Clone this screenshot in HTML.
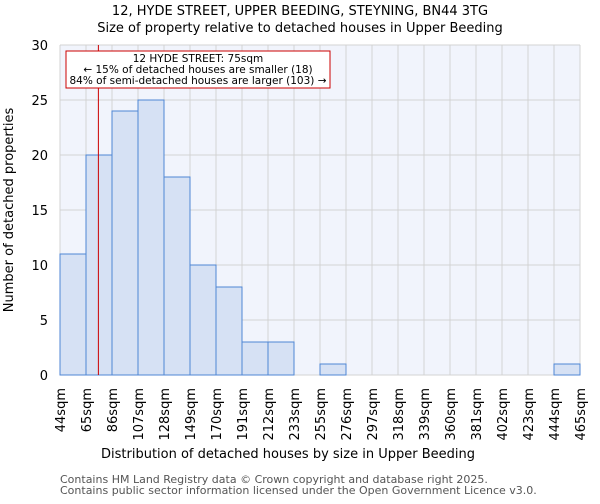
<!DOCTYPE html>
<html><head><meta charset="utf-8"><style>
body{margin:0;background:#fff;font-family:"DejaVu Sans","Liberation Sans",sans-serif}
svg text{font-family:"DejaVu Sans","Liberation Sans",sans-serif}
</style></head><body>
<svg id="chart" width="600" height="500" viewBox="0 0 600 500">
<text x="300" y="15" font-size="13" text-anchor="middle">12, HYDE STREET, UPPER BEEDING, STEYNING, BN44 3TG</text>
<text x="300" y="32" font-size="13" text-anchor="middle">Size of property relative to detached houses in Upper Beeding</text>
<rect x="60" y="45" width="520" height="330" fill="#f1f4fc"/>
<g id="grid"></g><g id="bars"></g><g id="axes"></g>
<text x="288" y="458" font-size="13" text-anchor="middle">Distribution of detached houses by size in Upper Beeding</text>
<text transform="translate(13,210) rotate(-90)" font-size="13" text-anchor="middle">Number of detached properties</text>
<text x="60" y="483" font-size="11" fill="#555">Contains HM Land Registry data © Crown copyright and database right 2025.</text>
<text x="60" y="494" font-size="11" fill="#555">Contains public sector information licensed under the Open Government Licence v3.0.</text>
</svg>
<script>
const categories=["44sqm","65sqm","86sqm","107sqm","128sqm","149sqm","170sqm","191sqm","212sqm","233sqm","255sqm","276sqm","297sqm","318sqm","339sqm","360sqm","381sqm","402sqm","423sqm","444sqm","465sqm"];
const counts=[11,20,24,25,18,10,8,3,3,0,1,0,0,0,0,0,0,0,0,1];
const yTicks=[0,5,10,15,20,25,30];
const propertySize=75;
const binStart=44, binWidth=21;
const NS="http://www.w3.org/2000/svg";
const X0=60,X1=580,Y0=375,Y1=45,YMAX=30;
const nb=counts.length, bw=(X1-X0)/nb;
const xs=i=>X0+i*bw;
const xv=v=>X0+(v-binStart)/binWidth*bw;
const ys=v=>Y0-(v/YMAX)*(Y0-Y1);
function mk(tag,attrs,parent){const e=document.createElementNS(NS,tag);for(const k in attrs)e.setAttribute(k,attrs[k]);parent.appendChild(e);return e;}
const grid=document.getElementById('grid'),bars=document.getElementById('bars'),axes=document.getElementById('axes');
yTicks.forEach(t=>{
  const l=mk('line',{x1:X0,x2:X1,y1:ys(t),y2:ys(t),stroke:'#d3d3d3','stroke-width':1},grid);
  
  
  const tx=mk('text',{x:X0-12,y:ys(t)+5,'font-size':13,'text-anchor':'end'},axes);
  tx.textContent=t;
  
  
});
categories.forEach((c,i)=>{
  const l=mk('line',{x1:xs(i),x2:xs(i),y1:Y1,y2:Y0,stroke:'#d3d3d3','stroke-width':1},grid);
  
  
  const tx=mk('text',{transform:`translate(${xs(i)+5},388) rotate(-90)`,'font-size':13,'text-anchor':'end'},axes);
  tx.textContent=c;
  
  
});
counts.forEach((v,i)=>{
  if(v<=0)return;
  const r=mk('rect',{x:xs(i),y:ys(v),width:bw,height:Y0-ys(v),fill:'#d6e1f4',stroke:'#4f86d4','stroke-width':1},bars);
  
  
});
const mx=xv(propertySize);
const ml=mk('line',{x1:mx,x2:mx,y1:Y1,y2:Y0,stroke:'#cc0000','stroke-width':1},axes);


const box=mk('rect',{x:66,y:51,width:264,height:37,fill:'#fff',stroke:'#cc0000','stroke-width':1},axes);


["12 HYDE STREET: 75sqm","← 15% of detached houses are smaller (18)","84% of semi-detached houses are larger (103) →"].forEach((s,k)=>{
  const t=mk('text',{x:198,y:62+k*11,'font-size':10.5,'text-anchor':'middle'},axes);
  t.textContent=s;
  
  
});
</script>
</body></html>
